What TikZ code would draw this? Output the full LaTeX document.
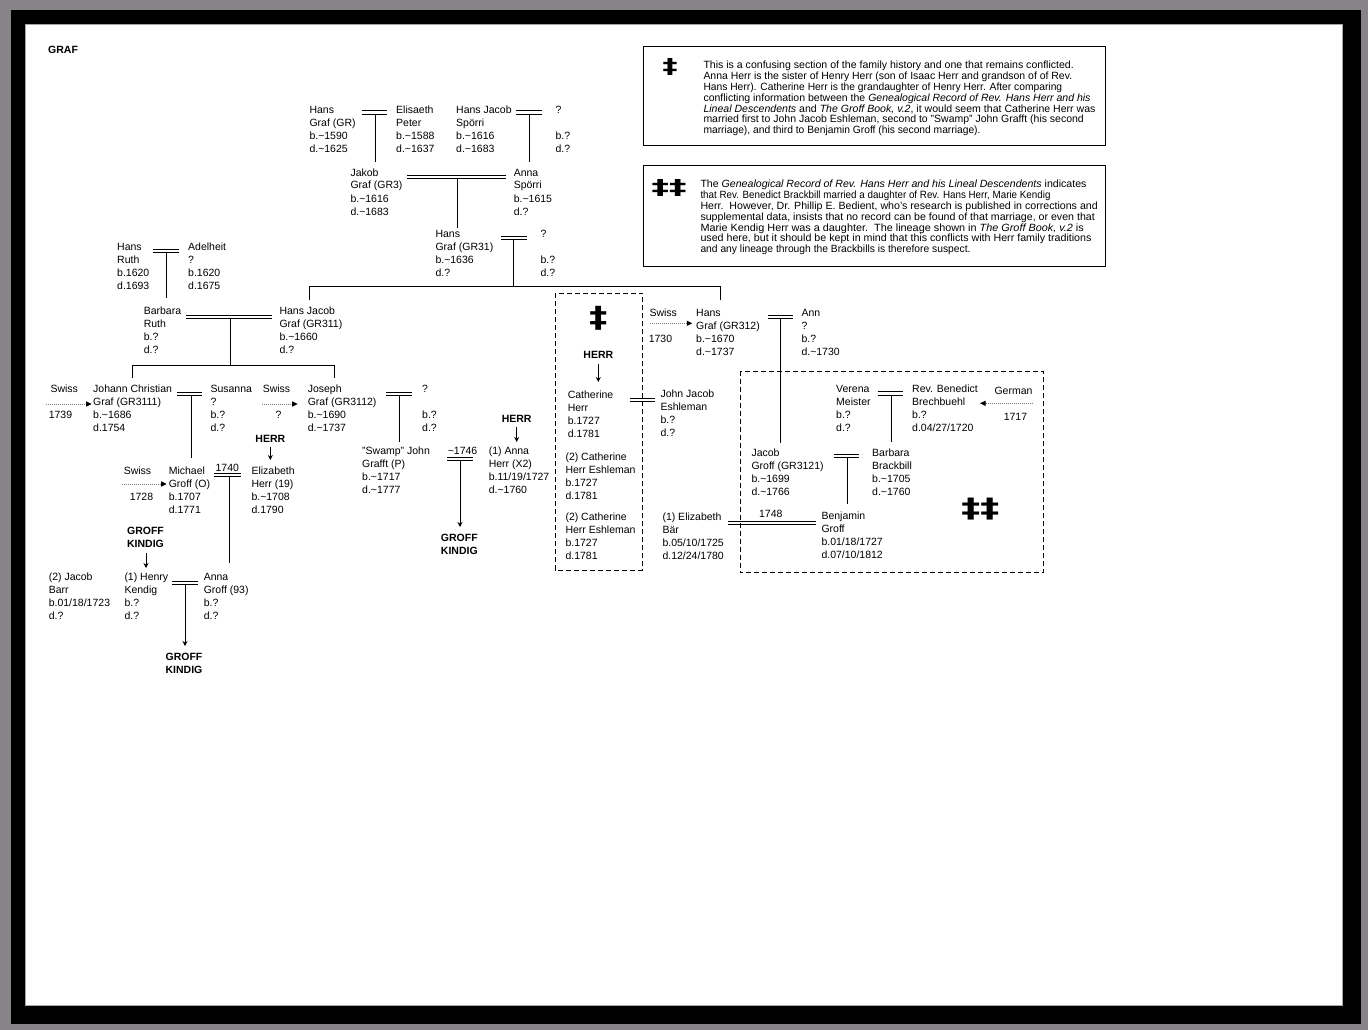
\documentclass[tikz,border=0pt]{standalone}
\usepackage{fontspec}
\setmainfont{Liberation Sans}
\newfontfamily\ddfont{DejaVu Sans}
\usetikzlibrary{arrows.meta}
\newcommand\tld{\textasciitilde}
\definecolor{outergray}{RGB}{134,132,134}
\newcommand\noteline[2]{\resizebox{#1pt}{\height}{#2}}
\newcommand\person[4]{\node[anchor=base west] (#1) at (#2,#3) {\begin{tabular}[t]{@{}l@{}}#4\end{tabular}};}
\newcommand\marr[4]{%
  \coordinate (#1-a) at (#2,#4);
  \coordinate (#1-b) at (#3,#4);
  \coordinate (#1-c) at (#2,{#4+3.3});
  \coordinate (#1-d) at (#3,{#4+3.3});
  \draw (#1-a) -- (#1-b); \draw (#1-c) -- (#1-d);}
\newcommand\mdrop[4]{%
  \coordinate (#1-s) at (#2,#3); \coordinate (#1-e) at (#2,#4); \draw (#1-s) -- (#1-e);}
\newcommand\darr[4]{%
  \coordinate (#1-s) at (#2,#3); \coordinate (#1-e) at (#2,#4); \draw[arr] (#1-s) -- (#1-e);}
\newcommand\migr[5]{%
  \coordinate (#1-s) at (#2,#4); \coordinate (#1-e) at (#3,#4); \draw[migarrow] (#1-s) -- (#1-e);}
\begin{document}
\begin{tikzpicture}[x=1pt,y=-1pt,line width=1pt,
  every node/.style={inner sep=0pt,font=\fontsize{10.5}{13}\selectfont},
  lbl/.style={anchor=base west},
  boldlbl/.style={anchor=base,font=\fontsize{10.5}{13}\selectfont\bfseries},
  arr/.style={-{Stealth[length=5pt,width=5pt]},line width=0.9pt},
  migarrow/.style={densely dotted,draw=gray,line width=1pt,-{Triangle[length=5.5pt,width=5pt,color=black]}},
  dashbox/.style={dash pattern=on 5pt off 3pt,line width=1pt},
  notetext/.style={anchor=base west,font=\fontsize{10.5}{10.9}\selectfont},
  dd/.style={font=\ddfont\bfseries}]
\useasboundingbox (0,0) rectangle (1368,1030);
\fill[outergray] (0,0) rectangle (1368,1030);
\fill[black] (11,10) rectangle (1361,1024);
\filldraw[fill=white,draw=gray!70,line width=0.6pt] (25,24) rectangle (1342,1005);

\node[anchor=base west,font=\fontsize{10.5}{13}\selectfont\bfseries] (graf) at (47.7,54) {GRAF};

% ---- notes ----
\draw (643.3,46.7) rectangle (1105.5,146);
\node[dd] (dag1) at (670,66.7) {\resizebox*{15pt}{17pt}{‡}};
\node[notetext] (note1) at (703,68.5) {\parbox[t]{440pt}{\raggedright
\noteline{370.3}{This is a confusing section of the family history and one that remains conflicted.}\\
\noteline{368.7}{Anna Herr is the sister of Henry Herr (son of Isaac Herr and grandson of of Rev.}\\
\noteline{358.7}{Hans Herr). Catherine Herr is the grandaughter of Henry Herr. After comparing}\\
\noteline{387}{conflicting information between the \textit{Genealogical Record of Rev. Hans Herr and his}}\\
\noteline{392}{\textit{Lineal Descendents} and \textit{The Groff Book, v.2}, it would seem that Catherine Herr was}\\
\noteline{380.3}{married first to John Jacob Eshleman, second to "Swamp" John Grafft (his second}\\
\noteline{277}{marriage), and third to Benjamin Groff (his second marriage).}}};

\draw (643.3,165) rectangle (1105.5,266);
\node[dd] (dag2) at (669,187.5) {\resizebox*{35pt}{17pt}{‡‡}};
\node[notetext] (note2) at (700,187.5) {\parbox[t]{440pt}{\raggedright
\noteline{386}{The \textit{Genealogical Record of Rev. Hans Herr and his Lineal Descendents} indicates}\\
\noteline{350}{that Rev. Benedict Brackbill married a daughter of Rev. Hans Herr, Marie Kendig}\\
\noteline{397.3}{Herr.\ \ However, Dr. Phillip E. Bedient, who's research is published in corrections and}\\
\noteline{394.3}{supplemental data, insists that no record can be found of that marriage, or even that}\\
\noteline{383.3}{Marie Kendig Herr was a daughter.\ \ The lineage shown in \textit{The Groff Book, v.2} is}\\
\noteline{391}{used here, but it should be kept in mind that this conflicts with Herr family traditions}\\
\noteline{270}{and any lineage through the Brackbills is therefore suspect.}}};

% ---- dashed boxes ----
\draw[dashbox] (555,293.3) rectangle (642.7,570);
\draw[dashbox] (740,371) rectangle (1043.3,572.7);
\node[dd] (dag3) at (598.3,318.3) {\resizebox*{18pt}{24pt}{‡}};
\node[dd] (dag4) at (980.3,509.3) {\resizebox*{38pt}{22pt}{‡‡}};

% ---- persons ----
\person{hansGR}{309}{114}{Hans\\Graf (GR)\\b.\tld1590\\d.\tld1625}
\person{elisaeth}{395.7}{114}{Elisaeth\\Peter\\b.\tld1588\\d.\tld1637}
\person{hansJacobS}{455.7}{114}{Hans Jacob\\Spörri\\b.\tld1616\\d.\tld1683}
\person{unkA}{555}{114}{?\\ \\b.?\\d.?}
\person{jakob}{350}{176}{Jakob\\Graf (GR3)\\b.\tld1616\\d.\tld1683}
\person{annaS}{513.3}{176}{Anna\\Spörri\\b.\tld1615\\d.?}
\person{hansGRtt}{435}{237}{Hans\\Graf (GR31)\\b.\tld1636\\d.?}
\person{unkB}{540}{237}{?\\ \\b.?\\d.?}
\person{hansRuth}{116.7}{250}{Hans\\Ruth\\b.1620\\d.1693}
\person{adelheit}{187.7}{250}{Adelheit\\?\\b.1620\\d.1675}
\person{barbaraR}{143.3}{314}{Barbara\\Ruth\\b.?\\d.?}
\person{hansJacobG}{279}{314}{Hans Jacob\\Graf (GR311)\\b.\tld1660\\d.?}
\person{johann}{92.7}{392}{Johann Christian\\Graf (GR3111)\\b.\tld1686\\d.1754}
\person{susanna}{210}{392}{Susanna\\?\\b.?\\d.?}
\person{joseph}{307.3}{392}{Joseph\\Graf (GR3112)\\b.\tld1690\\d.\tld1737}
\person{unkC}{421.7}{392}{?\\ \\b.?\\d.?}
\person{michael}{168.3}{474.5}{Michael\\Groff (O)\\b.1707\\d.1771}
\person{elizHerr}{251}{474.5}{Elizabeth\\Herr (19)\\b.\tld1708\\d.1790}
\person{jacobBarr}{48.3}{580}{(2) Jacob\\Barr\\b.01/18/1723\\d.?}
\person{henry}{124}{580}{(1) Henry\\Kendig\\b.?\\d.?}
\person{annaGroff}{203.3}{580}{Anna\\Groff (93)\\b.?\\d.?}
\person{swamp}{361.7}{454}{"Swamp" John\\Grafft (P)\\b.\tld1717\\d.\tld1777}
\person{annaHerr}{488.3}{454}{(1) Anna\\Herr (X2)\\b.11/19/1727\\d.\tld1760}
\person{cathHerr}{567.3}{398}{Catherine\\Herr\\b.1727\\d.1781}
\person{johnJacobE}{660}{397.5}{John Jacob\\Eshleman\\b.?\\d.?}
\person{cathA}{565}{460}{(2) Catherine\\Herr Eshleman\\b.1727\\d.1781}
\person{cathB}{565}{520}{(2) Catherine\\Herr Eshleman\\b.1727\\d.1781}
\person{hansGRott}{695.7}{316}{Hans\\Graf (GR312)\\b.\tld1670\\d.\tld1737}
\person{ann}{801}{316}{Ann\\?\\b.?\\d.\tld1730}
\person{verena}{835.7}{392}{Verena\\Meister\\b.?\\d.?}
\person{benedict}{911.7}{392}{Rev. Benedict\\Brechbuehl\\b.?\\d.04/27/1720}
\person{jacobGroff}{751}{456.5}{Jacob\\Groff (GR3121)\\b.\tld1699\\d.\tld1766}
\person{barbaraB}{871.7}{456.5}{Barbara\\Brackbill\\b.\tld1705\\d.\tld1760}
\person{elizBar}{662}{520}{(1) Elizabeth\\Bär\\b.05/10/1725\\d.12/24/1780}
\person{benjamin}{821}{519}{Benjamin\\Groff\\b.01/18/1727\\d.07/10/1812}

% ---- marriages and descent ----
\marr{mA}{361.7}{386.7}{111}   \mdrop{dA}{375.7}{114.3}{161.7}
\marr{mB}{516}{541.7}{111}     \mdrop{dB}{529.3}{114.3}{161.7}
\marr{mC}{407.3}{505.7}{175}   \mdrop{dC}{457.3}{178.3}{227.7}
\marr{mD}{501}{526.7}{236}     \mdrop{dD}{513.3}{239.3}{286.5}
\coordinate (barL) at (309.3,286.5); \coordinate (barR) at (720,286.5);
\coordinate (barLd) at (309.3,300); \coordinate (barRd) at (720,300);
\draw (barLd) -- (barL) -- (barR) -- (barRd);
\marr{mE}{153.3}{179}{249.3}   \mdrop{dE}{166.7}{252.6}{298.3}
\marr{mF}{186}{271.7}{315}     \mdrop{dF}{230}{318.3}{365}
\coordinate (kbarL) at (132.3,365); \coordinate (kbarR) at (334.3,365);
\coordinate (kbarLd) at (132.3,378); \coordinate (kbarRd) at (334.3,378);
\draw (kbarLd) -- (kbarL) -- (kbarR) -- (kbarRd);
\marr{mG}{176.7}{202.3}{392.3} \mdrop{dG}{191}{395.6}{458.3}
\marr{mH}{386}{411.7}{392.3}   \mdrop{dH}{399.3}{395.6}{441.7}
\marr{mI}{214}{240.7}{473.3}   \mdrop{dI}{229}{476.6}{563.3}
\node[anchor=base] (yr1740) at (227.3,471) {1740};
\marr{mJ}{172.3}{197.7}{581}   \darr{dJ}{185}{584.3}{646}
\marr{mK}{447.3}{473.3}{457.3} \darr{dK}{460}{460.6}{527}
\node[lbl] (yr1746) at (447.3,454) {\tld1746};
\marr{mL}{630}{655}{398.3}
\marr{mM}{767.7}{792.7}{315}   \mdrop{dM}{780}{318.3}{442.7}
\marr{mN}{877.7}{903.3}{391.7} \mdrop{dN}{891}{395}{441.7}
\marr{mO}{834.3}{859.3}{454}   \mdrop{dO}{847.3}{457.3}{504.3}
\marr{mP}{728.3}{815.7}{521}
\node[anchor=base] (yr1748) at (770.8,517) {1748};

% ---- bold surname labels ----
\node[boldlbl] (herrA) at (270.3,442) {HERR}; \darr{aA}{270.3}{446.5}{460}
\node[boldlbl] (herrB) at (516.7,422) {HERR}; \darr{aB}{516.7}{427}{442}
\node[boldlbl] (herrC) at (598.3,358) {HERR}; \darr{aC}{598.3}{364}{382}
\node[boldlbl] (gkA) at (145.5,534) {\begin{tabular}[t]{@{}c@{}}GROFF\\KINDIG\end{tabular}}; \darr{aD}{146}{553}{568}
\node[boldlbl] (gkB) at (184,660.5) {\begin{tabular}[t]{@{}c@{}}GROFF\\KINDIG\end{tabular}};
\node[boldlbl] (gkC) at (459.3,541) {\begin{tabular}[t]{@{}c@{}}GROFF\\KINDIG\end{tabular}};

% ---- migrations ----
\node[lbl] (swA) at (50,392) {Swiss};   \node[lbl] (yr1739) at (48.3,418) {1739};
\migr{gA}{45.7}{91.7}{404}{}
\node[lbl] (swB) at (262.3,392) {Swiss}; \node[lbl] (yrq) at (275,418) {?};
\migr{gB}{262.3}{297.7}{404}{}
\node[lbl] (swC) at (123.3,474.5) {Swiss}; \node[lbl] (yr1728) at (129.3,500.5) {1728};
\migr{gC}{121.7}{166.7}{484}{}
\node[lbl] (swD) at (649,316) {Swiss}; \node[lbl] (yr1730) at (648.3,342) {1730};
\migr{gD}{650}{692.3}{323.3}{}
\node[lbl] (german) at (994,394) {German}; \node[lbl] (yr1717) at (1003.3,420) {1717};
\migr{gE}{1033.3}{980}{403.3}{}
\end{tikzpicture}
\end{document}
